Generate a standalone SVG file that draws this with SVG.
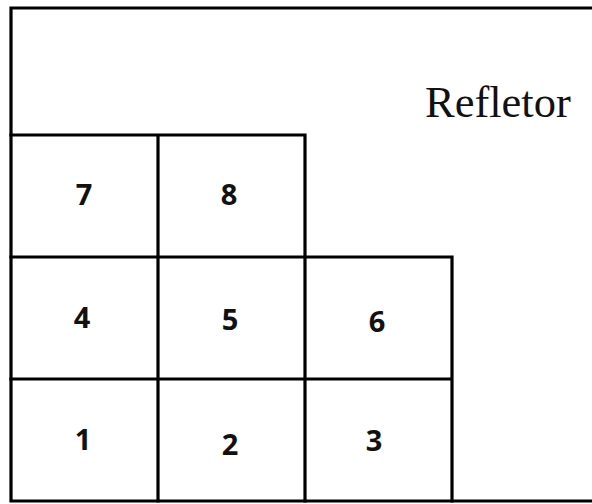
<svg xmlns="http://www.w3.org/2000/svg" width="592" height="504" viewBox="0 0 592 504">
<style>
.ln{stroke:#000;stroke-width:3.2;fill:none;stroke-linecap:square}
.num{font-family:"Open Sans","Liberation Sans",sans-serif;font-weight:bold;font-size:29px;text-anchor:middle;fill:#111}
.lbl{font-family:"Liberation Serif","Times New Roman",serif;font-size:44.5px;fill:#111}
</style>
<rect width="592" height="504" fill="#fff"/>
<g id="reflector">
<path class="ln" d="M11,8 H600 M11,8 V501 M11,501 H600"/>
<text class="lbl" x="425" y="117">Refletor</text>
</g>
<g id="grid-lines">
<path class="ln" d="M11,135 H305 M11,257 H452 M11,379 H452 M158,135 V501 M305,135 V501 M452,257 V501"/>
</g>
<g id="cell-7"><text class="num" x="84" y="205">7</text></g>
<g id="cell-8"><text class="num" x="229" y="205">8</text></g>
<g id="cell-4"><text class="num" x="82" y="328">4</text></g>
<g id="cell-5"><text class="num" x="230" y="330">5</text></g>
<g id="cell-6"><text class="num" x="377" y="332">6</text></g>
<g id="cell-1"><text class="num" x="83" y="450">1</text></g>
<g id="cell-2"><text class="num" x="230" y="455">2</text></g>
<g id="cell-3"><text class="num" x="374" y="451">3</text></g>
</svg>
